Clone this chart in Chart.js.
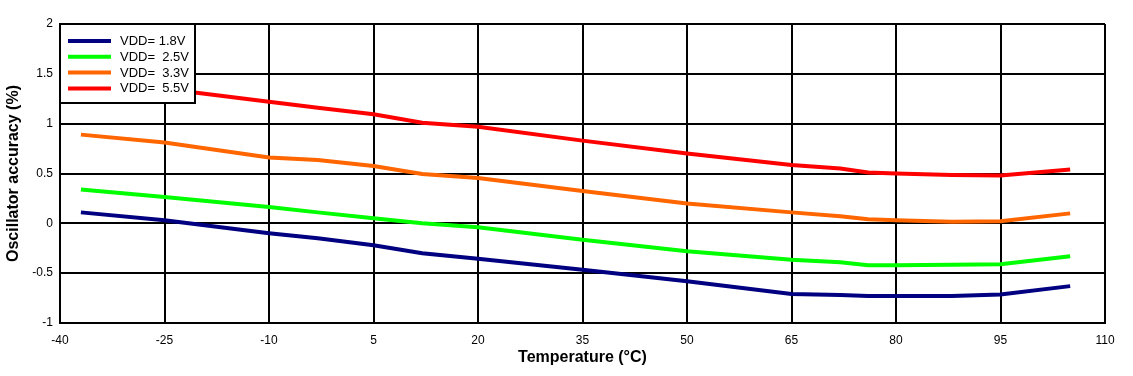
<!DOCTYPE html>
<html>
<head>
<meta charset="utf-8">
<script src="https://cdn.jsdelivr.net/npm/chart.js@4.4.1/dist/chart.umd.min.js"></script>
<style>
  body { margin: 0; background: #fff; }
  canvas { display: block; }
</style>
</head>
<body>
<canvas id="chartOsc" width="1133" height="376"></canvas>
<script>
// ── datos ──
const temps = [-37, -25, -10, -3, 5, 12, 20, 35, 50, 65, 72, 76, 80, 88, 95, 105];

const vdd18 = [0.11, 0.03, -0.10, -0.15, -0.22, -0.30, -0.355, -0.465, -0.58, -0.71, -0.72, -0.73, -0.73, -0.73, -0.715, -0.63];
const vdd25 = [0.34, 0.265, 0.165, 0.11, 0.05, 0.00, -0.04, -0.165, -0.28, -0.365, -0.39, -0.42, -0.42, -0.415, -0.41, -0.33];
const vdd33 = [0.89, 0.81, 0.66, 0.635, 0.575, 0.495, 0.455, 0.325, 0.20, 0.11, 0.07, 0.04, 0.03, 0.015, 0.02, 0.10];
const vdd55 = [1.45, 1.35, 1.22, 1.16, 1.095, 1.01, 0.97, 0.83, 0.70, 0.585, 0.55, 0.51, 0.50, 0.485, 0.48, 0.54];

const seriesLabels = ['VDD= 1.8V', 'VDD=  2.5V', 'VDD=  3.3V', 'VDD=  5.5V'];
const seriesColors = ['#000080', '#00FF00', '#FF6600', '#FF0000'];

const xMin = -40, xMax = 110, xStep = 15;
const yMin = -1, yMax = 2, yStep = 0.5;

const FONT = 'Arial, "Liberation Sans", sans-serif';

function pts(ys) {
    return temps.map((t, i) => ({ x: t, y: ys[i] }));
}

// leyenda dentro del área de trazado, arriba a la izquierda
const boxLegend = {
    id: 'boxLegend',
    afterDraw(chart) {
        const { ctx, chartArea } = chart;
        const x0 = chartArea.left, y0 = chartArea.top;
        ctx.save();
        ctx.fillStyle = '#fff';
        ctx.fillRect(x0, y0, 135, 79);
        ctx.strokeStyle = '#000';
        ctx.lineWidth = 2;
        ctx.strokeRect(x0, y0, 135, 79);
        ctx.font = '13px ' + FONT;
        ctx.textBaseline = 'middle';
        chart.data.datasets.forEach((ds, i) => {
            const y = y0 + 17 + i * 15.8;
            ctx.strokeStyle = ds.borderColor;
            ctx.lineWidth = 4;
            ctx.beginPath();
            ctx.moveTo(x0 + 8, y);
            ctx.lineTo(x0 + 51, y);
            ctx.stroke();
            ctx.fillStyle = '#000';
            ctx.fillText(ds.label, x0 + 60, y + 0.5);
        });
        ctx.restore();
    }
};

const datasets = [vdd18, vdd25, vdd33, vdd55].map((d, i) => ({
    label: seriesLabels[i],
    data: pts(d),
    borderColor: seriesColors[i],
    backgroundColor: seriesColors[i],
    borderWidth: 4,
    pointRadius: 0,
    tension: 0,
    fill: false
}));

new Chart(document.getElementById('chartOsc'), {
    type: 'line',
    data: { datasets },
    plugins: [boxLegend],
    options: {
        responsive: false,
        animation: false,
        devicePixelRatio: 1,
        layout: { padding: { top: 24, right: 28, left: 0, bottom: 0 } },
        plugins: {
            legend: { display: false },
            tooltip: { enabled: false }
        },
        scales: {
            x: {
                type: 'linear',
                min: xMin, max: xMax,
                afterFit: s => { s.height = 53; },
                ticks: { stepSize: xStep, color: '#000', padding: 10, font: { family: FONT, size: 12 }, maxRotation: 0 },
                grid: { color: '#000', lineWidth: 2, drawTicks: false },
                border: { color: '#000', width: 2 },
                title: {
                    display: true, text: 'Temperature (°C)', color: '#000',
                    font: { family: FONT, size: 16, weight: 'bold' },
                    padding: { top: 0, bottom: 9 }
                }
            },
            y: {
                min: yMin, max: yMax,
                afterFit: s => { s.width = 60; },
                ticks: {
                    stepSize: yStep, color: '#000', padding: 7, font: { family: FONT, size: 12 },
                    callback: v => String(Math.round(v * 10) / 10)
                },
                grid: { color: '#000', lineWidth: 2, drawTicks: false },
                border: { color: '#000', width: 2 },
                title: {
                    display: true, text: 'Oscillator accuracy (%)', color: '#000',
                    font: { family: FONT, size: 16, weight: 'bold' },
                    padding: { top: 4, bottom: 0 }
                }
            }
        }
    }
});
</script>
</body>
</html>
